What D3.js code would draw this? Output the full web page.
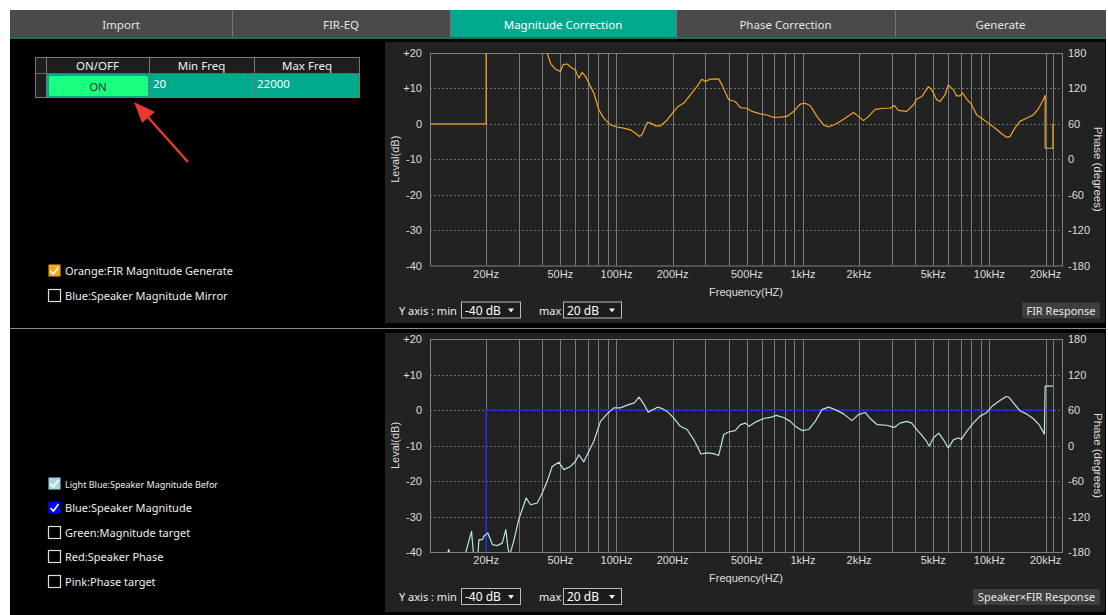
<!DOCTYPE html>
<html>
<head>
<meta charset="utf-8">
<script src="https://cdn.jsdelivr.net/npm/d3@7"></script>
<style>
	body { margin: 0; background: #fff; }
	svg { display: block; }
</style>
</head>
<body>
<svg id="chart"></svg>
<script>
// tabs
let tabNames = ['Import', 'FIR-EQ', 'Magnitude Correction', 'Phase Correction', 'Generate'];
let tabEdges = [10, 232, 450, 676, 895, 1106];
let activeTab = 2;

// frequency grid + tick labels
let gridFreqs = [20, 30, 40, 50, 60, 70, 80, 90, 100, 200, 300, 400, 500, 600, 700, 800, 900,
	1000, 2000, 3000, 4000, 5000, 6000, 7000, 8000, 9000, 10000, 20000, 22000];
let tickFreqs = [20, 50, 100, 200, 500, 1000, 2000, 5000, 10000, 20000];
let tickNames = ['20Hz', '50Hz', '100Hz', '200Hz', '500Hz', '1kHz', '2kHz', '5kHz', '10kHz', '20kHz'];
let levelTicks = [20, 10, 0, -10, -20, -30, -40];
let levelNames = ['+20', '+10', '0', '-10', '-20', '-30', '-40'];
let phaseNames = ['180', '120', '60', '0', '-60', '-120', '-180'];

// orange: FIR magnitude generate
let firFreq = [10, 20, 20, 42.5, 44.3, 47.1, 50.1, 51.8, 54.4, 57.9, 60.2, 62.8, 65.4, 68.3, 72.6, 75.6, 80.4, 85.5,
	92.9, 100.8, 109, 118.8, 126, 133, 137, 146, 153, 162, 172, 187, 203, 214, 229, 249, 270, 287, 299, 318, 353, 368,
	400, 434, 462, 501, 533, 591, 641, 696, 756, 821, 891, 968, 1029, 1095, 1188, 1290, 1372, 1490, 1651, 1867, 1985,
	2111, 2248, 2440, 2704, 2937, 3086, 3252, 3604, 3914, 4077, 4336, 4707, 4904, 5215, 5432, 5778, 6014, 6402, 6667,
	6948, 7180, 7554, 8034, 8550, 9089, 9864, 10700, 11640, 12360, 12880, 13690, 14560, 15800, 17150, 18240, 19540,
	19900, 19900, 21900, 21900];
let firLevel = [0, 0, 30, 20, 17.1, 15.4, 14.8, 16.7, 16.9, 15.7, 15.3, 12.9, 14.5, 13.4, 10.5, 8.7, 4.0, 1.6,
	-0.3, -0.9, -1.2, -1.7, -2.6, -3.6, -3.1, 0.4, 0.2, -0.6, -0.6, 1.1, 3.5, 4.9, 5.8, 8.2, 10.5, 12.6, 12.0, 12.6, 12.7, 11.0,
	6.8, 6.3, 4.6, 4.4, 3.5, 2.8, 2.5, 1.8, 1.9, 2.1, 3.5, 5.6, 5.8, 5.1, 2.1, -0.3, -0.9, -0.1, 1.3, 3.2, 2.1,
	0.9, 2.1, 4.1, 4.4, 4.4, 5.2, 3.8, 3.5, 5.4, 7.0, 7.7, 10.5, 9.6, 6.8, 6.3, 8.2, 11.0, 9.6, 7.9,
	7.9, 8.7, 7.0, 5.4, 2.5, 1.6, 0.2, -1.2, -2.8, -3.8, -3.6, -1.2, 0.7, 1.6, 2.5, 4.1, 7.0,
	8.0, -6.9, -6.9, 0];

// light blue: speaker x FIR response
let spkFreq = [10.5, 12.2, 12.6, 13.0, 15.2, 16.7, 17.2, 18.0, 18.3, 19.1, 19.5, 20.4, 21.6, 22.9, 24.4, 25.5, 26.2, 26.7,
	28.1, 29.9, 31.2, 32.8, 34.6, 37.6, 40.0, 42.5, 45.2, 49.1, 52.2, 56.7, 60.2, 62.8, 66.8, 71.1, 75.6, 82.1, 89.1,
	96.8, 105, 116, 125, 132, 140, 148, 157, 166, 176, 187, 203, 220, 239, 260, 284, 306, 332, 353, 376, 399, 433,
	462, 492, 514, 567, 616, 669, 720, 788, 855, 910, 988, 1072, 1164, 1264, 1372, 1490, 1651, 1831, 1985, 2157,
	2295, 2492, 2813, 3086, 3315, 3604, 3830, 4077, 4336, 4572, 4760, 4998, 5350, 5673, 6014, 6402, 6804, 7082,
	7554, 8190, 8880, 9630, 10440, 11330, 12300, 12710, 13450, 14560, 15800, 17150, 18450, 19700, 19900, 21900];
let spkLevel = [-42, -42, -39.3, -42, -42, -34.2, -42, -42, -36.5, -36.5, -35.5, -34.6, -37.9, -38.2, -37.5, -33.7, -38.9, -41,
	-37, -30.9, -28.1, -24.8, -26.7, -26.2, -23.4, -20.1, -15.9, -14.7, -16.8, -15.9, -14.5, -12.6, -14.6, -11.6, -8.8, -3.2, -1.1,
	0.6, 0.6, 1.5, 2.0, 3.6, 1.7, -0.6, 0.1, 0.8, 0.4, -0.4, -2.3, -4.6, -5.5, -8.4, -12.4, -12.1, -12.3, -12.8, -6.9, -6.2, -5.8,
	-4.1, -3.7, -4.6, -3.2, -2.4, -2.1, -1.5, -2.1, -3.2, -4.6, -5.8, -5.5, -3.2, 0.1, 0.8, 0.1, -1.1, -3.0, -1.3, -0.7,
	-2.4, -4.1, -4.3, -4.9, -3.7, -3.2, -3.7, -5.5, -7.1, -8.6, -10.2, -7.9, -6.5, -8.4, -10.7, -8.4, -7.9, -8.2,
	-6.0, -3.7, -1.8, -0.8, 1.3, 2.6, 3.8, 3.6, 2.0, -0.2, -1.1, -2.4, -4.1, -6.8, 6.7, 6.7];

// dark blue: speaker magnitude (flat window 20Hz..22kHz)
let blueFreq = [20, 20, 21900];
let blueLevel = [-40, 0, 0];

let W = 1108, H = 615;
let svg = d3.select('#chart').attr('width', W).attr('height', H);
let uiFont = "'Noto Sans', 'Open Sans', sans-serif";
let axisFont = "'Liberation Sans', Arial, sans-serif";

// app background
svg.append('rect').attr('x', 10).attr('y', 10).attr('width', W - 12).attr('height', H - 10).attr('fill', '#000');

// tab bar
tabNames.forEach((name, i) => {
	let x0 = tabEdges[i], x1 = tabEdges[i + 1];
	svg.append('rect').attr('x', x0).attr('y', 10).attr('width', x1 - x0).attr('height', 28)
		.attr('fill', i == activeTab ? '#00a98c' : '#4a4a4a');
	if (i > 0) {
		svg.append('line').attr('x1', x0 + 0.5).attr('x2', x0 + 0.5).attr('y1', 10).attr('y2', 38)
			.attr('stroke', '#777');
	}
	svg.append('text').attr('x', (x0 + x1) / 2).attr('y', 28.5)
		.attr('text-anchor', 'middle').attr('font-family', uiFont).attr('font-size', 11.5)
		.attr('fill', i == activeTab ? '#fff' : '#e4e4e4').text(name);
});
svg.append('rect').attr('x', 10).attr('y', 37).attr('width', W - 12).attr('height', 2).attr('fill', '#1f6f5f');

// divider between upper and lower halves
svg.append('line').attr('x1', 10).attr('x2', W - 2).attr('y1', 328.5).attr('y2', 328.5).attr('stroke', '#8a8a8a');

// scales
let xScale = d3.scaleLog().domain([10, 24500]).range([430, 1062]);

function drawChart(cfg) {
	let yScale = d3.scaleLinear().domain([-40, 20]).range([cfg.bottom, cfg.top]);
	let g = svg.append('g');

	g.append('rect').attr('x', 385).attr('y', cfg.panelTop).attr('width', 720).attr('height', cfg.panelH)
		.attr('fill', '#222');

	// vertical gridlines
	g.selectAll('.vgrid').data(gridFreqs).enter().append('line')
		.attr('x1', d => Math.round(xScale(d)) + 0.5).attr('x2', d => Math.round(xScale(d)) + 0.5)
		.attr('y1', cfg.top).attr('y2', cfg.bottom)
		.attr('stroke', '#7a7a7a').attr('stroke-width', 1);

	// horizontal dotted gridlines
	g.selectAll('.hgrid').data(levelTicks.slice(1, -1)).enter().append('line')
		.attr('x1', 430).attr('x2', 1062)
		.attr('y1', d => Math.round(yScale(d)) + 0.5).attr('y2', d => Math.round(yScale(d)) + 0.5)
		.attr('stroke', '#6e6e6e').attr('stroke-dasharray', '2,2');

	g.append('rect').attr('x', 430.5).attr('y', cfg.top + 0.5).attr('width', 632).attr('height', cfg.bottom - cfg.top)
		.attr('fill', 'none').attr('stroke', '#808080');

	// left / right tick labels
	g.selectAll('.ltick').data(levelTicks).enter().append('text')
		.attr('x', 422).attr('y', d => yScale(d) + 4)
		.attr('text-anchor', 'end').attr('font-family', axisFont).attr('font-size', 11).attr('fill', '#ddd')
		.text((d, i) => levelNames[i]);
	g.selectAll('.rtick').data(levelTicks).enter().append('text')
		.attr('x', 1068).attr('y', d => yScale(d) + 4)
		.attr('font-family', axisFont).attr('font-size', 11).attr('fill', '#ddd')
		.text((d, i) => phaseNames[i]);

	// x tick labels
	g.selectAll('.xtick').data(tickFreqs).enter().append('text')
		.attr('x', d => xScale(d)).attr('y', cfg.bottom + 12)
		.attr('text-anchor', 'middle').attr('font-family', axisFont).attr('font-size', 11).attr('fill', '#ddd')
		.text((d, i) => tickNames[i]);

	g.append('text').attr('x', 746).attr('y', cfg.bottom + 30).attr('text-anchor', 'middle')
		.attr('font-family', axisFont).attr('font-size', 11).attr('fill', '#ddd').text('Frequency(HZ)');

	let midY = (cfg.top + cfg.bottom) / 2;
	g.append('text').attr('transform', `translate(399,${midY}) rotate(-90)`).attr('text-anchor', 'middle')
		.attr('font-family', axisFont).attr('font-size', 11).attr('fill', '#ddd').text('Leval(dB)');
	g.append('text').attr('transform', `translate(1094,${midY + 10}) rotate(90)`).attr('text-anchor', 'middle')
		.attr('font-family', axisFont).attr('font-size', 11.5).attr('fill', '#ddd').text('Phase (degrees)');

	// clip for curves
	let clipId = 'clip' + cfg.top;
	g.append('clipPath').attr('id', clipId).append('rect')
		.attr('x', 431).attr('y', cfg.top).attr('width', 631).attr('height', cfg.bottom - cfg.top);
	let curves = g.append('g').attr('clip-path', `url(#${clipId})`);
	cfg.series.forEach(s => {
		let line = d3.line().x(d => xScale(d[0])).y(d => yScale(d[1]));
		curves.append('path').datum(s.freq.map((f, i) => [f, s.level[i]]))
			.attr('d', line).attr('fill', 'none').attr('stroke', s.color).attr('stroke-width', s.width || 1.3)
			.attr('stroke-linejoin', 'round');
	});

	// y axis min/max controls
	let cy = cfg.bottom + 49;
	g.append('text').attr('x', 399).attr('y', cy).attr('font-family', uiFont).attr('font-size', 11)
		.attr('fill', '#eee').text('Y axis : min');
	g.append('text').attr('x', 539).attr('y', cy).attr('font-family', uiFont).attr('font-size', 11)
		.attr('fill', '#eee').text('max');
	[[461, 59, '-40 dB'], [563, 58, '20 dB']].forEach(b => {
		g.append('rect').attr('x', b[0] + 0.5).attr('y', cy - 12.5).attr('width', b[1]).attr('height', 16)
			.attr('fill', '#1c1c1c').attr('stroke', '#bbb');
		g.append('text').attr('x', b[0] + 4).attr('y', cy).attr('font-family', uiFont).attr('font-size', 12)
			.attr('fill', '#fff').text(b[2]);
		g.append('path').attr('d', `M${b[0] + b[1] - 12},${cy - 6} l6,0 l-3,4 z`).attr('fill', '#eee');
	});

	// response label box
	g.append('rect').attr('x', cfg.boxX).attr('y', cy - 12).attr('width', 1100 - cfg.boxX).attr('height', 16)
		.attr('fill', '#3e3e3e');
	g.append('text').attr('x', (cfg.boxX + 1100) / 2).attr('y', cy).attr('text-anchor', 'middle')
		.attr('font-family', uiFont).attr('font-size', 11).attr('fill', '#e8e8e8').text(cfg.boxLabel);
}

drawChart({
	panelTop: 42, panelH: 281, top: 53, bottom: 265.5,
	boxX: 1022, boxLabel: 'FIR Response',
	series: [{ freq: firFreq, level: firLevel, color: '#eea42a', width: 1.2 }]
});
drawChart({
	panelTop: 333, panelH: 279, top: 339, bottom: 552,
	boxX: 973, boxLabel: 'Speaker×FIR Response',
	series: [
		{ freq: blueFreq, level: blueLevel, color: '#2222ff', width: 1.5 },
		{ freq: spkFreq, level: spkLevel, color: '#b8e4e4', width: 1.2 }
	]
});

// ON/OFF table
let tbl = svg.append('g');
tbl.append('rect').attr('x', 35).attr('y', 57).attr('width', 325).attr('height', 40).attr('fill', '#1e1e1e');
tbl.append('rect').attr('x', 46).attr('y', 73).attr('width', 314).attr('height', 24).attr('fill', '#00a98c');
tbl.append('rect').attr('x', 49).attr('y', 76).attr('width', 99).attr('height', 20).attr('rx', 2).attr('fill', '#19ff80');
[46, 149, 254].forEach(x => {
	tbl.append('line').attr('x1', x + 0.5).attr('x2', x + 0.5).attr('y1', 57).attr('y2', 97).attr('stroke', '#777');
});
tbl.append('line').attr('x1', 35).attr('x2', 360).attr('y1', 73.5).attr('y2', 73.5).attr('stroke', '#666');
tbl.append('rect').attr('x', 35.5).attr('y', 57.5).attr('width', 324).attr('height', 40).attr('fill', 'none').attr('stroke', '#777');
[['ON/OFF', 97.5], ['Min Freq', 201.5], ['Max Freq', 307]].forEach(h => {
	tbl.append('text').attr('x', h[1]).attr('y', 70).attr('text-anchor', 'middle').attr('font-family', uiFont)
		.attr('font-size', 11.5).attr('fill', '#eee').text(h[0]);
});
tbl.append('text').attr('x', 98).attr('y', 90.5).attr('text-anchor', 'middle').attr('font-family', uiFont)
	.attr('font-size', 11.5).attr('fill', '#1a3a2a').text('ON');
tbl.append('text').attr('x', 153).attr('y', 88).attr('font-family', uiFont).attr('font-size', 11.5).attr('fill', '#fff').text('20');
tbl.append('text').attr('x', 257).attr('y', 88).attr('font-family', uiFont).attr('font-size', 11.5).attr('fill', '#fff').text('22000');

// red arrow
svg.append('line').attr('x1', 188).attr('y1', 162).attr('x2', 146).attr('y2', 115)
	.attr('stroke', '#e8392f').attr('stroke-width', 2.5);
svg.append('path').attr('d', 'M134,102 L155,112 L142,123 Z').attr('fill', '#e8392f');

// checkboxes
function checkbox(x, y, label, fill, checked, size) {
	svg.append('rect').attr('x', x + 0.5).attr('y', y - 6.5).attr('width', 12).attr('height', 12)
		.attr('fill', fill || 'none').attr('stroke', fill ? 'none' : '#ddd').attr('stroke-width', 1.2);
	if (checked) {
		svg.append('path').attr('d', `M${x + 2.5},${y} L${x + 5.5},${y + 3} L${x + 10.5},${y - 4}`)
			.attr('fill', 'none').attr('stroke', '#fff').attr('stroke-width', 1.6);
	}
	svg.append('text').attr('x', x + 17).attr('y', y + 4).attr('font-family', uiFont)
		.attr('font-size', size || 11).attr('fill', '#eee').text(label);
}
checkbox(48, 271, 'Orange:FIR Magnitude Generate', '#f5a623', true);
checkbox(48, 296, 'Blue:Speaker Magnitude Mirror', null, false);
checkbox(48, 484, 'Light Blue:Speaker Magnitude Befor', '#a9d5e4', true, 9);
checkbox(48, 508, 'Blue:Speaker Magnitude', '#0000ff', true);
checkbox(48, 533, 'Green:Magnitude target', null, false);
checkbox(48, 557, 'Red:Speaker Phase', null, false);
checkbox(48, 582, 'Pink:Phase target', null, false);
</script>
</body>
</html>
